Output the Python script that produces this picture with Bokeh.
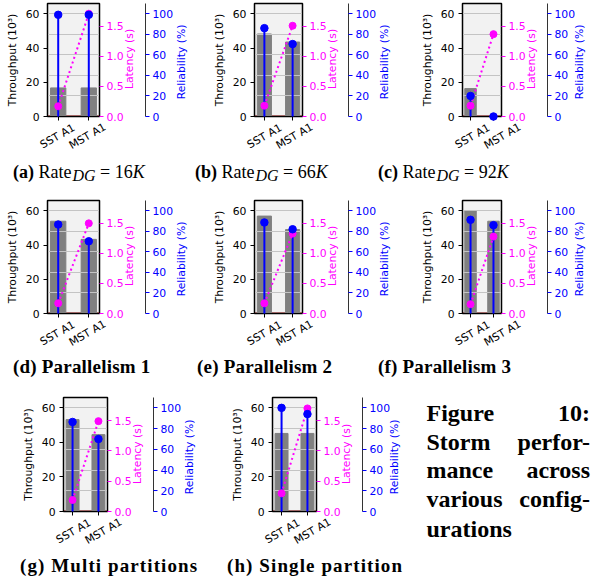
import math
from bokeh.plotting import figure
from bokeh.models import Range1d, LinearAxis, FixedTicker, Grid, Span, NumeralTickFormatter, Div
from bokeh.layouts import column, row
from bokeh.embed import file_html
from bokeh.resources import INLINE

# ---------------- data ----------------
categories = ["SST A1", "MST A1"]
panel_ids = ["a", "b", "c", "d", "e", "f", "g", "h"]
throughput_sst = [16.7, 48.2, 16.3, 53.9, 56.9, 60.0, 53.2, 45.2]
throughput_mst = [16.7, 43.5, 0.0, 43.3, 49.0, 53.9, 44.5, 45.2]
latency_sst = [0.17, 0.18, 0.18, 0.17, 0.17, 0.155, 0.19, 0.30]
latency_mst = [1.71, 1.51, 1.37, 1.50, 1.33, 1.28, 1.49, 1.70]
reliability_sst = [99, 86, 20, 86.6, 88.6, 91.2, 86.4, 100]
reliability_mst = [99, 70.5, 0, 70.3, 82, 86, 69.9, 94]
throughput_ticks = [0, 20, 40, 60]
latency_ticks = [0.0, 0.5, 1.0, 1.5]
reliability_ticks = [0, 20, 40, 60, 80, 100]
rate_values = ["16", "66", "92"]
rate_letters = ["(a)", "(b)", "(c)"]
parallel_captions = ["(d) Parallelism 1", "(e) Parallelism 2", "(f) Parallelism 3"]
partition_captions = ["(g) Multi partitions", "(h) Single partition"]
figure_caption_lines = [("Figure", "10:"), ("Storm", "perfor-"), ("mance", "across"),
                        ("various", "config-"), ("urations", "")]

FONT = "DejaVu Sans"
FS = "10.8px"
SERIF = "Liberation Serif"
BLUE = "#0000ff"
MAGENTA = "#ff00ff"
X_MIN, X_MAX = -0.35, 1.35
NBSP = "\u00a0"
HAS_LABEL_ALIGN = "axis_label_align" in LinearAxis.properties()

# (x0 of panel in its row, width, height, left, right, top, bottom)
geom = [
    (0, 200, 124, 47, 101, 3, 8),
    (200, 200, 124, 54, 94, 3, 8),
    (400, 195, 124, 62, 82, 3, 8),
    (0, 200, 125, 47, 101, 5, 7),
    (200, 200, 125, 54, 94, 5, 7),
    (400, 195, 125, 62, 82, 5, 7),
    (0, 205, 128, 63, 90, 7, 7),
    (205, 205, 128, 67, 87, 7, 7),
]


def style_axis(ax, color, label, tick_out, lab_standoff, axlab_standoff, line_color):
    ax.axis_label = label
    ax.axis_label_text_font = FONT
    ax.axis_label_text_font_size = FS
    ax.axis_label_text_font_style = "normal"
    ax.axis_label_text_color = color
    ax.axis_label_standoff = axlab_standoff
    ax.major_label_text_font = FONT
    ax.major_label_text_font_size = FS
    ax.major_label_text_color = color
    ax.major_label_standoff = lab_standoff
    ax.major_tick_out = tick_out
    ax.major_tick_in = 0
    ax.major_tick_line_color = color
    ax.minor_tick_line_color = None
    ax.axis_line_color = line_color


def upward_label(ax, text, pad):
    # right-side label reading bottom-to-top, centred along the frame
    if HAS_LABEL_ALIGN:
        ax.axis_label = NBSP * pad + text
        ax.axis_label_orientation = math.pi / 2
        ax.axis_label_align = "start"
    else:
        ax.axis_label = text


def make_panel(i):
    x0, w, h, l, r, t, b = geom[i]
    xs = list(range(len(categories)))
    tput = [throughput_sst[i], throughput_mst[i]]
    lat = [latency_sst[i], latency_mst[i]]
    rel = [reliability_sst[i], reliability_mst[i]]

    p = figure(width=w, height=h, x_range=Range1d(X_MIN, X_MAX), y_range=Range1d(0, 66),
               output_backend="svg", toolbar_location=None, title_location=None,
               min_border_left=l, min_border_right=r, min_border_top=t, min_border_bottom=b)
    p.extra_y_ranges = {"lat": Range1d(0, 1.88), "rel": Range1d(0, 110)}
    p.grid.visible = False
    p.background_fill_color = "#f2f2f2"
    p.outline_line_color = "black"
    p.outline_line_width = 1.5

    # x axis: tick marks only (rotated category labels are set below the panels)
    xa = p.xaxis[0]
    xa.ticker = FixedTicker(ticks=xs)
    style_axis(xa, "black", "", 4, 0, 0, "black")
    xa.axis_label = None
    xa.major_label_overrides = {x: "" for x in xs}
    xa.major_label_text_font_size = "0px"

    # throughput axis (left)
    ya = p.yaxis[0]
    ya.ticker = FixedTicker(ticks=throughput_ticks)
    style_axis(ya, "black", "Throughput (10³)", 4, 4, 4, "black")

    # latency axis
    la = LinearAxis(y_range_name="lat", ticker=FixedTicker(ticks=latency_ticks),
                    formatter=NumeralTickFormatter(format="0.0"))
    style_axis(la, MAGENTA, "", 4, 3, 3, "black")
    upward_label(la, "Latency (s)", 8)
    p.add_layout(la, "right")

    # reliability axis
    ra = LinearAxis(y_range_name="rel", ticker=FixedTicker(ticks=reliability_ticks))
    style_axis(ra, BLUE, "", 4, 3, 5 if r >= 90 else 1, "#333333")
    upward_label(ra, "Reliability (%)", 5)
    p.add_layout(ra, "right")

    grid = Grid(dimension=1, ticker=FixedTicker(ticks=reliability_ticks[1:]), y_range_name="rel",
                grid_line_color="#c4c4c4", grid_line_width=1, level="glyph")
    p.add_layout(grid, "center")

    p.add_layout(Span(location=0, dimension="width", line_color="#8b1a1a", line_width=2, level="image"))

    p.vbar(x=xs, top=tput, width=0.5, color="#808080", level="underlay")
    p.segment(x0=xs, y0=[0] * len(xs), x1=xs, y1=rel, y_range_name="rel",
              line_color=BLUE, line_width=2, level="annotation")
    p.line(xs, lat, y_range_name="lat", line_color=MAGENTA, line_width=2,
           line_dash="2 3", level="annotation")
    p.scatter(xs, lat, y_range_name="lat", size=7, color=MAGENTA, level="annotation")
    p.scatter(xs, rel, y_range_name="rel", size=7.5, color=BLUE, level="annotation")
    return p


def serif_span(x, baseline, html, size, weight="normal", right=None, spacing=0):
    top = baseline - 0.8375 * size
    pos = f"left:{x}px;" if right is None else f"right:{right}px;"
    return (f"<span style=\"position:absolute;{pos}top:{top:.1f}px;font-family:'{SERIF}';"
            f"font-size:{size}px;font-weight:{weight};line-height:{size}px;"
            f"letter-spacing:{spacing}px;white-space:nowrap;color:#000\">{html}</span>")


def tick_label_spans(panel_indices, cy):
    out = []
    for i in panel_indices:
        x0, w, h, l, r, t, b = geom[i]
        fw = w - l - r
        for k, c in enumerate(categories):
            cx = x0 + l + (k - X_MIN) / (X_MAX - X_MIN) * fw
            out.append(f"<span style=\"position:absolute;left:{cx:.1f}px;top:{cy}px;"
                       f"transform:translate(-50%,-50%) rotate(-30deg);font-family:'{FONT}';"
                       f"font-size:{FS};line-height:{FS};white-space:nowrap;color:#000\">{c}</span>")
    return out


def box(w, h, parts):
    html = (f"<div style=\"position:relative;width:{w}px;height:{h}px;overflow:visible\">"
            + "".join(parts) + "</div>")
    return Div(text=html, width=w, height=h, margin=0)


panels = [make_panel(i) for i in range(len(panel_ids))]

# strip 1 : y 124..195
parts = tick_label_spans([0, 1, 2], 13)
for k, x in enumerate([13, 195, 378]):
    cap = (f"<b>{rate_letters[k]}</b>&nbsp;Rate"
           f"<i style=\"font-size:16px;position:relative;top:3px;padding-left:1px\">DG</i>"
           f"&nbsp;=&nbsp;{rate_values[k]}<i>K</i>")
    parts.append(serif_span(x, 54, cap, 18))
d1 = box(595, 71, parts)

# strip 2 : y 320..390
parts = tick_label_spans([3, 4, 5], 13.7)
for k, x in enumerate([13, 197, 378]):
    parts.append(serif_span(x, 53.3, parallel_captions[k], 19, "bold", spacing=0.2))
d2 = box(595, 70, parts)

# strip 3 : y 518..577, x 0..410
parts = tick_label_spans([6, 7], 13.7)
for k, x in enumerate([20, 227]):
    parts.append(serif_span(x, 53.7, partition_captions[k], 19, "bold", spacing=1.1))
d3 = box(410, 59, parts)

# figure caption : x 410..595, y 390..577
parts = []
for k, (w1, w2) in enumerate(figure_caption_lines):
    yb = [30.7, 60, 88.5, 117, 146.7][k]
    parts.append(serif_span(16.5, yb, w1, 24, "bold"))
    if w2:
        parts.append(serif_span(0, yb, w2, 24, "bold", right=5))
fc = box(185, 187, parts)

layout = column(
    row(panels[0], panels[1], panels[2]),
    d1,
    row(panels[3], panels[4], panels[5]),
    d2,
    row(column(row(panels[6], panels[7]), d3), fc),
)

open("out.html", "w").write(file_html(layout, INLINE))
